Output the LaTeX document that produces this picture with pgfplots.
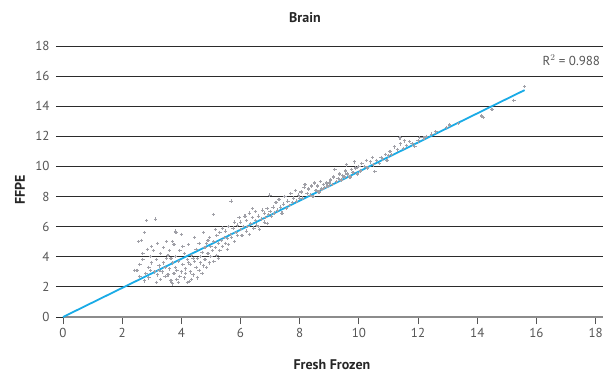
\documentclass[border=0pt]{standalone}
\usepackage{pgfplots}
\pgfplotsset{compat=1.18}
\usepackage{fontspec}
\setmainfont{PT Sans}
\definecolor{pts}{HTML}{A0A0A7}
\definecolor{fitc}{HTML}{1AABE6}
\definecolor{tickc}{HTML}{555555}
\definecolor{gridc}{HTML}{2B2B2B}
\begin{document}
\begin{tikzpicture}
\begin{axis}[
  name=ax,
  scale only axis, width=540pt, height=271pt,
  xmin=0, xmax=18.25, ymin=0, ymax=18,
  axis y line*=left, axis x line*=bottom,
  y axis line style={draw=none},
  x axis line style={draw=gray!90, line width=1.3pt},
  xtick={0,2,...,18}, ytick={0,2,...,18},
  ymajorgrids, grid style={gridc, line width=0.8pt},
  tick align=outside,
  xtick style={tickc, line width=0.8pt}, major tick length=7pt,
  ytick style={gridc, line width=0.8pt},
  ticklabel style={font=\fontsize{13}{14}\selectfont, text=tickc},
  xticklabel style={yshift=-1pt},
  yticklabel style={xshift=-3pt},
  /pgf/number format/assume math mode=true,
  clip=false,
]
\addplot[only marks, mark=+, mark size=1.7pt, pts, line width=1.1pt] coordinates {
(2.5,3.1)(2.6,3.5)(2.65,5.1)(2.55,5.0)(2.7,4.2)(2.75,5.6)(2.83,6.4)(2.7,3.8)(2.8,2.9)(2.9,3.3)(2.85,4.5)(2.95,4.0)(2.6,2.7)(2.75,2.4)(3.0,3.6)(2.9,2.6)(3.0,4.7)(2.95,3.1)(2.43,3.1)
(3.13,6.5)(3.05,4.4)(3.1,3.0)(3.15,3.8)(3.2,2.8)(3.2,4.9)(3.25,3.4)(3.3,4.2)(3.3,2.5)(3.35,3.0)(3.4,4.6)(3.4,3.6)(3.45,2.7)(3.5,3.9)(3.5,5.0)(3.15,2.3)(3.25,3.1)(3.45,3.3)
(3.55,2.8)(3.6,3.2)(3.6,4.4)(3.65,2.4)(3.7,3.6)(3.7,5.0)(3.75,2.9)(3.8,5.7)(3.8,3.3)(3.8,4.0)(3.85,2.5)(3.9,3.7)(3.9,2.3)(3.95,4.4)(4.0,3.0)(4.0,5.5)(3.65,3.9)(3.75,4.8)(3.85,3.1)(3.95,2.7)(3.55,4.1)(3.7,2.2)(3.82,5.6)
(4.05,3.5)(4.1,2.6)(4.1,4.2)(4.15,3.2)(4.2,3.8)(4.2,2.3)(4.25,4.8)(4.3,3.0)(4.3,3.5)(4.35,4.1)(4.4,2.8)(4.4,3.9)(4.45,5.3)(4.5,3.3)(4.5,4.5)(4.05,4.7)(4.15,2.9)(4.25,3.6)(4.35,2.5)(4.45,3.7)(4.28,2.35)
(4.55,3.9)(4.6,3.1)(4.6,4.9)(4.65,3.6)(4.7,4.3)(4.7,2.9)(4.75,5.6)(4.8,3.8)(4.8,4.6)(4.85,3.3)(4.9,4.2)(4.9,5.1)(4.95,3.6)(5.0,4.7)(5.0,4.0)(4.55,2.6)(4.65,4.0)(4.75,3.4)(4.85,4.9)(4.95,5.3)
(5.08,6.8)(5.05,4.4)(5.1,5.0)(5.1,3.7)(5.15,4.6)(5.2,5.4)(5.2,4.1)(5.25,4.9)(5.3,5.6)(5.3,4.4)(5.35,5.1)(5.4,4.7)(5.4,5.9)(5.45,5.3)(5.5,4.9)(5.5,5.7)(5.15,5.8)(5.25,3.9)
(5.55,5.2)(5.6,6.0)(5.6,4.8)(5.65,5.5)(5.68,7.7)(5.7,5.3)(5.75,5.9)(5.8,6.3)(5.8,5.0)(5.85,5.6)(5.9,6.1)(5.9,5.4)(5.95,6.6)(6.0,5.8)(6.0,6.3)(5.55,4.5)
(6.05,5.4)(6.1,6.0)(6.15,6.7)(6.2,5.7)(6.2,6.4)(6.25,6.0)(6.3,6.9)(6.3,5.5)(6.35,6.2)(6.4,6.6)(6.45,5.9)(6.5,6.4)(6.5,7.0)(6.55,6.1)(6.6,6.7)(6.65,5.8)(6.7,6.5)(6.75,7.1)(6.8,6.3)(6.8,6.9)(6.85,6.6)(6.9,7.2)(6.95,6.8)(7.0,7.0)(6.99,8.1)(6.4,7.2)(6.6,6.0)(6.9,6.2)
(7.05,6.7)(7.1,7.3)(7.15,6.9)(7.2,7.6)(7.25,7.1)(7.3,7.8)(7.35,7.3)(7.4,6.9)(7.45,7.5)(7.5,8.0)(7.55,7.2)(7.6,7.7)(7.65,7.4)(7.7,8.2)(7.75,7.6)(7.8,7.9)(7.85,8.4)(7.9,7.7)(7.95,8.1)(8.0,7.9)
(8.05,8.3)(8.1,7.9)(8.15,8.6)(8.18,8.8)(8.25,8.2)(8.3,8.5)(8.35,8.1)(8.4,8.7)(8.49,8.9)(8.55,8.4)(8.6,8.7)(8.65,8.3)(8.7,9.0)(8.75,8.5)(8.8,8.8)(8.85,8.6)(8.9,8.9)(8.95,8.7)(9.0,8.9)(8.45,8.0)
(9.05,9.1)(9.1,8.8)(9.15,9.3)(9.19,9.8)(9.25,9.0)(9.3,9.2)(9.35,9.5)(9.4,9.1)(9.45,9.4)(9.5,9.3)(9.55,9.7)(9.58,10.1)(9.6,9.5)(9.7,9.3)(9.75,9.8)(9.8,9.6)(9.9,9.9)(9.95,9.5)(10.0,10.0)(9.85,10.3)
(10.05,9.7)(10.1,10.2)(10.2,10.0)(10.25,10.4)(10.3,9.9)(10.4,10.3)(10.45,10.6)(10.5,10.1)(10.54,9.65)(10.6,10.4)(10.7,10.2)(10.75,10.6)(10.8,10.5)(10.9,10.8)(10.95,10.4)(11.0,10.7)
(11.05,11.0)(11.1,10.8)(11.2,11.3)(11.3,11.1)(11.39,11.9)(11.4,11.5)(11.5,11.2)(11.55,11.7)(11.6,11.4)(11.72,11.64)(11.8,11.5)(11.89,11.35)(12.06,11.93)(12.0,11.7)
(12.29,12.0)(12.46,12.15)(12.2,11.9)(12.6,12.3)(12.96,12.6)(13.07,12.75)(13.36,12.86)(14.14,13.35)(14.2,13.26)(14.5,13.79)(15.24,14.4)(15.6,15.3)
};
\addplot[fitc, line width=1.8pt] coordinates {(0,0)(15.6,15.07)};
\node[anchor=east, text=tickc, font=\fontsize{13}{14}\selectfont] at (axis cs:18.27,17.05) {R$^{2}$ = 0.988};
\node[font=\bfseries\fontsize{14}{15}\selectfont, text=black!85] at (rel axis cs:0.448,1.103) {Brain};
\node[font=\bfseries\fontsize{14}{15}\selectfont, text=black!85] at (rel axis cs:0.498,-0.176) {Fresh Frozen};
\node[font=\bfseries\fontsize{14}{15}\selectfont, text=black!85, rotate=90] at (rel axis cs:-0.0796,0.469) {FFPE};
\end{axis}
\pgfresetboundingbox
\useasboundingbox (ax.south west) ++(-63pt,-56pt) rectangle ([shift={(3pt,46pt)}]ax.north east);
\end{tikzpicture}
\end{document}
